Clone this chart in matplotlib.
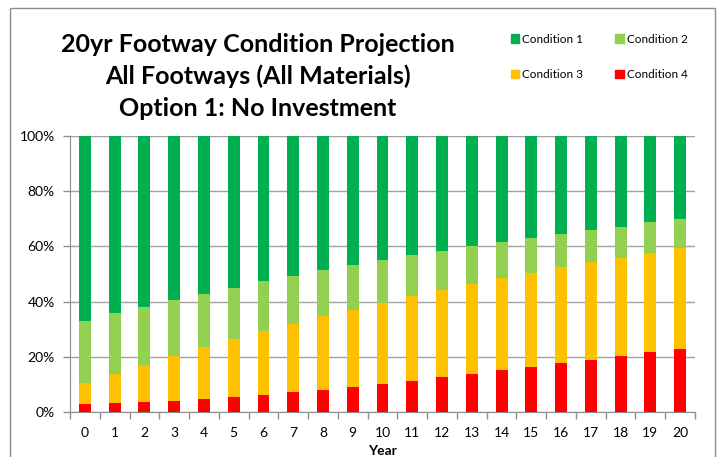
import matplotlib
matplotlib.use("Agg")
import matplotlib.pyplot as plt
from matplotlib.patches import Rectangle, Patch
import numpy as np

years = [str(i) for i in range(21)]
cond4 = [3.0, 3.3, 3.5, 4.0, 4.6, 5.3, 6.2, 7.1, 8.0, 9.1, 10.2, 11.2, 12.6, 13.7, 15.1, 16.3, 17.7, 19.0, 20.3, 21.6, 23.0]
cond3 = [7.4, 10.6, 13.5, 16.3, 18.9, 21.1, 23.2, 24.9, 26.8, 28.0, 29.2, 30.8, 31.5, 32.5, 33.3, 34.1, 34.7, 35.3, 35.6, 36.0, 36.3]
cond2 = [22.7, 21.9, 21.2, 20.3, 19.4, 18.7, 17.9, 17.3, 16.7, 16.3, 15.6, 14.8, 14.4, 13.9, 13.3, 12.8, 12.2, 11.7, 11.3, 11.1, 10.6]
cond1 = [66.9, 64.2, 61.8, 59.4, 57.1, 54.9, 52.7, 50.7, 48.5, 46.6, 45.0, 43.2, 41.5, 39.9, 38.3, 36.8, 35.4, 34.0, 32.8, 31.3, 30.1]
ytick_labels = ["0%", "20%", "40%", "60%", "80%", "100%"]

colors = {"Condition 1": "#00B050", "Condition 2": "#92D050",
          "Condition 3": "#FFC000", "Condition 4": "#FF0000"}

plt.rcParams['font.family'] = ['Lato', 'DejaVu Sans']

W, H = 723, 457
fig = plt.figure(figsize=(W/100, H/100), dpi=100)
fig.patch.set_facecolor("white")

# outer chart border
fig.add_artist(Rectangle((10/W, -0.05), (715-10)/W, (1-8/H)+0.05, transform=fig.transFigure,
                         fill=False, edgecolor="#8c8c8c", linewidth=1.0))

ax = fig.add_axes([70/W, 1-412/H, (695-70)/W, (412-136)/H])
x = np.arange(len(years))
w = 0.4
b = np.zeros(len(years))
series = [("Condition 4", cond4), ("Condition 3", cond3), ("Condition 2", cond2), ("Condition 1", cond1)]
for name, vals in series:
    vals = np.array(vals)
    ax.bar(x, vals, width=w, bottom=b, color=colors[name], zorder=3, linewidth=0)
    b = b + vals

ax.set_xlim(-0.5, len(years)-0.5)
ax.set_ylim(0, 100)
ax.set_yticks(np.arange(0, 101, 20))
ax.set_yticklabels(ytick_labels, fontsize=10)
ax.set_xticks(x)
ax.set_xticklabels(years, fontsize=10)
ax.tick_params(axis='x', length=0, pad=11)
ax.set_xticks(np.arange(-0.5, len(years), 1), minor=True)
ax.tick_params(axis='x', which='minor', length=5, color="#8c8c8c", width=1)
ax.tick_params(axis='y', length=5, color="#8c8c8c", width=1, pad=6)
ax.yaxis.grid(True, color="#a0a0a0", linewidth=1.0, zorder=0)
for s in ["top", "right"]:
    ax.spines[s].set_visible(False)
for s in ["left", "bottom"]:
    ax.spines[s].set_color("#8c8c8c")
ax.set_xlabel("Year", fontsize=10, fontweight="bold", labelpad=4)

fig.text(258/W, 1-44/H, "20yr Footway Condition Projection", ha="center", va="center",
         fontsize=18, fontweight="bold")
fig.text(258/W, 1-76/H, "All Footways (All Materials)", ha="center", va="center",
         fontsize=18, fontweight="bold")
fig.text(258/W, 1-108/H, "Option 1: No Investment", ha="center", va="center",
         fontsize=18, fontweight="bold")

handles = [Patch(color=colors[n]) for n in ["Condition 1", "Condition 3", "Condition 2", "Condition 4"]]
labels = ["Condition 1", "Condition 3", "Condition 2", "Condition 4"]
fig.legend(handles, labels, ncol=2, loc="upper left", bbox_to_anchor=(500/W, 1-23/H),
           frameon=False, fontsize=8.5, handlelength=0.7, handleheight=0.7,
           handletextpad=0.3, columnspacing=2.7, labelspacing=2.1)

fig.savefig("out.png", dpi=100)
